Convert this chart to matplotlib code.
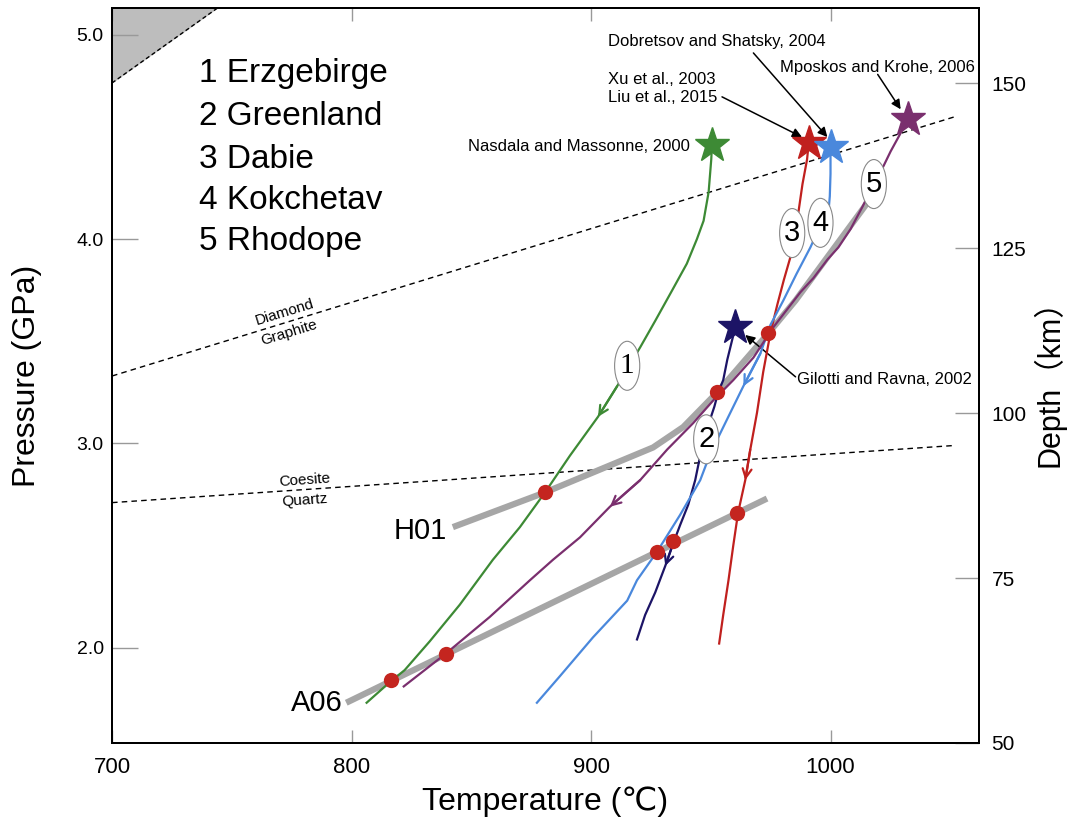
import matplotlib
matplotlib.use("Agg")
import matplotlib.pyplot as plt
from matplotlib.patches import Ellipse
import numpy as np

plt.rcParams['font.family'] = ['Liberation Sans', 'DejaVu Sans', 'Noto Sans CJK SC']

# P-T paths (T in degC, P in GPa), peak first
erz_T = [950.5, 950.2, 949.1, 947.0, 944.2, 940.0, 933.9, 926.8, 920.5, 910.9, 902.9,
         891.2, 880.8, 870.3, 859.0, 845.2, 832.6, 822.2, 815.9, 806.3]
erz_P = [4.46, 4.39, 4.23, 4.09, 4.00, 3.88, 3.75, 3.60, 3.47, 3.28, 3.13,
         2.94, 2.76, 2.59, 2.43, 2.21, 2.03, 1.89, 1.83, 1.73]

grl_T = [960.3, 959.0, 956.9, 955.2, 953.1, 951.5, 949.8, 947.7, 945.6, 943.5, 940.6,
         937.2, 934.3, 931.0, 926.8, 922.6, 919.2]
grl_P = [3.57, 3.51, 3.41, 3.31, 3.25, 3.18, 3.12, 3.03, 2.94, 2.82, 2.70,
         2.60, 2.51, 2.40, 2.27, 2.16, 2.04]

dab_T = [990.9, 990.2, 988.3, 986.7, 983.2, 980.5, 977.8, 974.9, 971.9, 969.3, 966.5,
         964.4, 961.4, 959.4, 957.4, 955.2, 953.5]
dab_P = [4.47, 4.39, 4.27, 4.14, 3.91, 3.80, 3.68, 3.54, 3.35, 3.15, 2.97,
         2.82, 2.66, 2.50, 2.33, 2.16, 2.02]

kok_T = [1000.0, 1000.0, 999.7, 999.2, 995.5, 991.6, 985.8, 980.3, 974.9, 970.7, 963.6,
         956.9, 949.8, 945.6, 937.2, 927.6, 919.2, 915.1, 900.8, 887.0, 877.4]
kok_P = [4.45, 4.32, 4.21, 4.14, 4.06, 3.96, 3.83, 3.70, 3.58, 3.44, 3.28,
         3.12, 2.95, 2.82, 2.65, 2.47, 2.33, 2.23, 2.05, 1.86, 1.73]

rho_T = [1032.2, 1029.3, 1025.1, 1022.2, 1018.0, 1013.4, 1008.4, 1003.3, 998.7, 992.9,
         987.4, 976.2, 967.8, 959.4, 951.0, 942.7, 931.8, 920.5, 907.9, 895.4, 884.1,
         874.5, 857.7, 839.3, 821.8]
rho_P = [4.59, 4.52, 4.43, 4.36, 4.27, 4.16, 4.05, 3.96, 3.90, 3.81,
         3.74, 3.57, 3.42, 3.31, 3.21, 3.10, 2.97, 2.82, 2.69, 2.54, 2.43,
         2.33, 2.15, 1.97, 1.81]

# geotherm-like reference lines
h01_T = [842.3, 880.8, 925.9, 938.5, 952.7, 974.1, 985.4, 1015.5]
h01_P = [2.59, 2.76, 2.98, 3.08, 3.25, 3.54, 3.70, 4.18]
a06_T = [797.8, 973.5]
a06_P = [1.73, 2.73]

# intersection points
dot_T = [880.8, 952.7, 974.1, 816.3, 839.3, 927.6, 934.3, 961.1]
dot_P = [2.76, 3.25, 3.54, 1.84, 1.97, 2.47, 2.52, 2.66]

# phase boundaries
dg_T, dg_P = [700, 1052], [3.33, 4.60]
cq_T, cq_P = [700, 1052], [2.71, 2.99]
shade_T, shade_P = [700, 760], [4.765, 5.265]

paths = [
    (erz_T, erz_P, '#3d8a35', 10),
    (grl_T, grl_P, '#1c1466', 13),
    (dab_T, dab_P, '#c0201e', 11),
    (kok_T, kok_P, '#4a88dc', 10),
    (rho_T, rho_P, '#7a2f6e', 18),
]

legend_lines = ['1 Erzgebirge', '2 Greenland', '3 Dabie', '4 Kokchetav', '5 Rhodope']
legend_P = [4.81, 4.60, 4.39, 4.19, 3.99]

label_nums = ['1', '2', '3', '4', '5']
label_T = [915.1, 948.1, 984.0, 995.8, 1018.1]
label_P = [3.38, 3.02, 4.03, 4.08, 4.27]

fig = plt.figure(figsize=(10.71, 8.27), dpi=100)
ax = fig.add_axes([0.1046, 0.1016, 0.8095, 0.8887])
ax.set_xlim(700, 1062)
ax.set_ylim(1.533, 5.132)

# shaded corner
ax.fill_between(shade_T, shade_P, 6, color='#bdbdbd', lw=0, zorder=1)
ax.plot(shade_T, shade_P, ls=(0, (3, 2)), color='k', lw=1, zorder=2)

ax.plot(dg_T, dg_P, ls=(0, (4, 3)), color='k', lw=1, zorder=2)
ax.plot(cq_T, cq_P, ls=(0, (4, 3)), color='k', lw=1, zorder=2)

ax.plot(h01_T, h01_P, color='#a6a6a6', lw=4.5, solid_capstyle='butt', zorder=3)
ax.plot(a06_T, a06_P, color='#a6a6a6', lw=4.5, solid_capstyle='butt', zorder=3)

for T, P, c, ia in paths:
    ax.plot(T, P, color=c, lw=1.6, zorder=4)
    ax.plot(T[0], P[0], marker='*', ms=26, color=c, mec=c, zorder=6)
    ax.annotate('', xy=(T[ia], P[ia]), xytext=(T[ia - 1], P[ia - 1]),
                arrowprops=dict(arrowstyle='->', color=c, lw=1.6, mutation_scale=16,
                                shrinkA=0, shrinkB=0), zorder=5)

ax.plot(dot_T, dot_P, 'o', color='#c4251f', ms=11, mec='none', zorder=7)

for n, T, P in zip(label_nums, label_T, label_P):
    ax.add_patch(Ellipse((T, P), 10.5, 0.24, facecolor='white', edgecolor='#888888',
                         lw=0.8, zorder=8))
    fam = ['Liberation Serif'] if n == '1' else ['Liberation Sans']
    ax.text(T, P, n, fontsize=21, ha='center', va='center', family=fam, zorder=9)

for s, P in zip(legend_lines, legend_P):
    ax.text(736.4, P, s, fontsize=24, ha='left', va='center')

ax.text(839.7, 2.57, 'H01', fontsize=21, ha='right', va='center')
ax.text(796.2, 1.73, 'A06', fontsize=21, ha='right', va='center')

ax.text(772.0, 3.64, 'Diamond', fontsize=11, ha='center', va='center', rotation=17)
ax.text(774.1, 3.54, 'Graphite', fontsize=11, ha='center', va='center', rotation=17)
ax.text(780.3, 2.82, 'Coesite', fontsize=11, ha='center', va='center', rotation=4)
ax.text(780.3, 2.72, 'Quartz', fontsize=11, ha='center', va='center', rotation=4)

# reference annotations
fs = 12
arr = dict(arrowstyle='-|>', color='k', lw=1.1, mutation_scale=14, shrinkA=0, shrinkB=0)
ax.text(907.1, 4.966, 'Dobretsov and Shatsky, 2004', fontsize=fs, va='center')
ax.annotate('', xy=(998.7, 4.50), xytext=(967.8, 4.912), arrowprops=arr)
ax.text(907.1, 4.780, 'Xu et al., 2003', fontsize=fs, va='center')
ax.text(907.1, 4.692, 'Liu et al., 2015', fontsize=fs, va='center')
ax.annotate('', xy=(988.1, 4.50), xytext=(954.7, 4.697), arrowprops=arr)
ax.text(979.1, 4.843, 'Mposkos and Krohe, 2006', fontsize=fs, va='center')
ax.annotate('', xy=(1029.3, 4.636), xytext=(1019.7, 4.807), arrowprops=arr)
ax.text(848.5, 4.452, 'Nasdala and Massonne, 2000', fontsize=fs, va='center')
ax.text(986.2, 3.311, 'Gilotti and Ravna, 2002', fontsize=fs, va='center')
ax.annotate('', xy=(964.4, 3.531), xytext=(985.4, 3.326), arrowprops=arr)

ax.set_xticks([700, 800, 900, 1000])
ax.set_yticks([2.0, 3.0, 4.0, 5.0])
ax.set_yticklabels(['2.0', '3.0', '4.0', '5.0'])
ax.tick_params(axis='x', direction='in', length=9.5, width=1, color='#999999',
               labelsize=16, pad=10, top=True)
ax.tick_params(axis='y', direction='in', length=18.5, width=1, color='#999999',
               labelsize=14, pad=6)
ax.set_xlabel('Temperature (℃)', fontsize=23, labelpad=6)
ax.set_ylabel('Pressure (GPa)', fontsize=23)
ax.yaxis.set_label_coords(-0.081, 0.5)
for sp in ax.spines.values():
    sp.set_linewidth(1.4)

ax2 = ax.twinx()
ax2.set_ylim(50, 161.4)
ax2.set_yticks([50, 75, 100, 125, 150])
ax2.tick_params(axis='y', direction='in', length=17, width=1, color='#999999',
                labelsize=15, pad=9)
ax2.set_ylabel('Depth（km）', fontsize=22)
ax2.yaxis.set_label_coords(1.062, 0.5)
for sp in ax2.spines.values():
    sp.set_linewidth(1.4)

fig.savefig('out.png', dpi=100)
